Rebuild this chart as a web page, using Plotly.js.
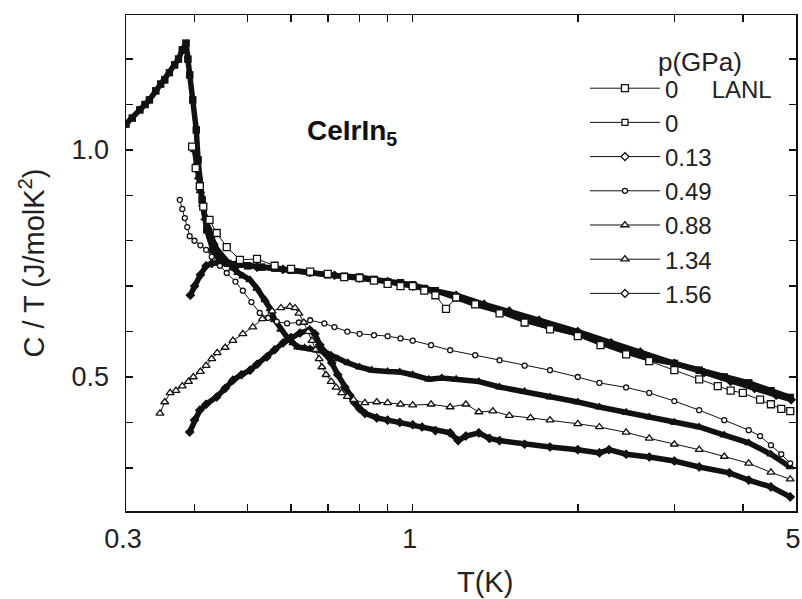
<!DOCTYPE html>
<html>
<head>
<meta charset="utf-8">
<script src="https://cdn.plot.ly/plotly-3.0.1.min.js"></script>
<style>
html,body{margin:0;padding:0;background:#fff;}
#chart{width:802px;height:599px;}
</style>
</head>
<body>
<div id="chart"></div>
<script>
// Legend labels (pressure in GPa)
const seriesNames = ['0', '0', '0.13', '0.49', '0.88', '1.34', '1.56'];

// 0 GPa (LANL) - open squares
const T_LANL = [0.396,0.402,0.409,0.415,0.426,0.439,0.458,0.484,0.52,0.56,0.6,0.65,0.7,0.75,0.8,0.85,0.9,0.95,1.0,1.05,1.1,1.15,1.2,1.3,1.44,1.6,1.78,2.0,2.2,2.45,2.7,3.0,3.33,3.6,3.8,4.0,4.3,4.5,4.7,4.88];
const C_LANL = [1.007,0.96,0.92,0.875,0.846,0.817,0.786,0.758,0.76,0.745,0.738,0.732,0.727,0.72,0.718,0.712,0.705,0.70,0.70,0.69,0.68,0.65,0.675,0.66,0.64,0.62,0.605,0.59,0.57,0.55,0.535,0.515,0.495,0.48,0.47,0.465,0.45,0.44,0.43,0.425];

// 0 GPa
const T_0 = [0.300,0.308,0.318,0.325,0.331,0.340,0.347,0.353,0.360,0.368,0.374,0.380,0.386,0.389,0.392,0.397,0.403,0.406,0.413,0.421,0.432,0.445,0.46,0.48,0.50,0.53,0.56,0.60,0.65,0.70,0.75,0.80,0.85,0.90,0.95,1.0,1.05,1.1,1.2,1.3,1.44,1.6,1.78,2.0,2.2,2.45,2.7,3.0,3.33,3.7,4.1,4.5,4.88];
const C_0 = [1.057,1.07,1.088,1.10,1.11,1.13,1.145,1.154,1.17,1.187,1.20,1.22,1.235,1.20,1.165,1.11,1.044,0.978,0.89,0.824,0.78,0.755,0.75,0.748,0.745,0.742,0.74,0.735,0.73,0.725,0.722,0.72,0.715,0.71,0.708,0.703,0.695,0.69,0.675,0.66,0.645,0.625,0.61,0.595,0.575,0.555,0.54,0.53,0.515,0.50,0.487,0.47,0.455];

// 0.13 GPa
const T_013 = [0.393,0.40,0.41,0.42,0.43,0.45,0.48,0.52,0.58,0.65,0.72,0.8,0.9,1.0,1.1,1.2,1.35,1.5,1.7,2.0,2.3,2.6,3.0,3.4,3.8,4.2,4.6,4.9];
const C_013 = [0.68,0.70,0.725,0.745,0.75,0.752,0.748,0.742,0.737,0.73,0.724,0.718,0.71,0.70,0.688,0.68,0.66,0.645,0.625,0.60,0.575,0.555,0.53,0.51,0.49,0.475,0.46,0.45];

// 0.49 GPa
const T_049 = [0.376,0.38,0.384,0.388,0.392,0.40,0.41,0.42,0.43,0.445,0.458,0.475,0.49,0.508,0.526,0.545,0.565,0.59,0.62,0.65,0.69,0.72,0.76,0.8,0.85,0.9,0.95,1.0,1.08,1.17,1.3,1.44,1.6,1.78,2.0,2.19,2.45,2.7,3.0,3.33,3.7,4.1,4.3,4.5,4.7,4.88];
const C_049 = [0.89,0.87,0.85,0.83,0.81,0.80,0.79,0.78,0.765,0.745,0.729,0.71,0.69,0.665,0.641,0.63,0.622,0.618,0.62,0.625,0.618,0.61,0.60,0.595,0.592,0.59,0.585,0.58,0.57,0.559,0.548,0.537,0.525,0.515,0.50,0.487,0.477,0.465,0.447,0.427,0.405,0.383,0.37,0.35,0.33,0.31];

// 0.88 GPa
const T_088 = [0.400,0.403,0.407,0.41,0.414,0.418,0.423,0.428,0.434,0.44,0.45,0.46,0.47,0.48,0.49,0.505,0.52,0.538,0.55,0.56,0.575,0.592,0.605,0.617,0.635,0.65,0.67,0.691,0.71,0.73,0.762,0.80,0.842,0.9,0.947,1.0,1.07,1.13,1.2,1.32,1.44,1.6,1.78,2.0,2.19,2.45,2.7,3.0,3.33,3.7,4.1,4.5,4.88];
const C_088 = [1.0,0.97,0.94,0.91,0.88,0.85,0.83,0.81,0.795,0.78,0.765,0.75,0.74,0.73,0.722,0.714,0.695,0.67,0.65,0.626,0.605,0.585,0.575,0.566,0.564,0.562,0.56,0.556,0.548,0.54,0.531,0.522,0.515,0.512,0.511,0.505,0.495,0.498,0.495,0.49,0.478,0.468,0.456,0.445,0.434,0.422,0.412,0.40,0.39,0.372,0.355,0.33,0.302];

// 1.34 GPa - triangles
const T_134 = [0.346,0.353,0.361,0.37,0.38,0.39,0.398,0.41,0.42,0.43,0.44,0.455,0.47,0.49,0.511,0.532,0.554,0.575,0.597,0.61,0.62,0.633,0.645,0.655,0.665,0.675,0.683,0.695,0.71,0.725,0.742,0.76,0.78,0.818,0.86,0.9,0.95,1.0,1.08,1.17,1.25,1.32,1.4,1.5,1.64,1.78,2.0,2.19,2.45,2.7,3.0,3.33,3.7,4.1,4.5,4.88];
const C_134 = [0.42,0.445,0.465,0.47,0.48,0.49,0.50,0.512,0.525,0.54,0.553,0.565,0.58,0.595,0.61,0.628,0.645,0.652,0.655,0.652,0.64,0.62,0.60,0.58,0.56,0.54,0.522,0.505,0.49,0.477,0.465,0.457,0.45,0.443,0.445,0.443,0.44,0.438,0.44,0.434,0.44,0.423,0.425,0.415,0.41,0.405,0.397,0.39,0.378,0.365,0.352,0.34,0.325,0.31,0.29,0.275];

// 1.56 GPa
const T_156 = [0.392,0.40,0.409,0.42,0.439,0.455,0.47,0.487,0.505,0.52,0.542,0.56,0.58,0.60,0.623,0.649,0.663,0.677,0.695,0.712,0.73,0.752,0.768,0.784,0.80,0.818,0.86,0.90,0.947,1.0,1.04,1.1,1.17,1.21,1.25,1.32,1.38,1.44,1.6,1.78,2.0,2.19,2.28,2.45,2.7,3.0,3.33,3.78,4.1,4.5,4.88];
const C_156 = [0.379,0.405,0.427,0.44,0.456,0.475,0.493,0.505,0.515,0.528,0.544,0.56,0.575,0.587,0.597,0.604,0.595,0.571,0.55,0.531,0.505,0.478,0.46,0.443,0.43,0.42,0.41,0.405,0.40,0.395,0.39,0.382,0.377,0.36,0.37,0.377,0.365,0.36,0.352,0.346,0.34,0.333,0.34,0.33,0.324,0.315,0.302,0.289,0.273,0.258,0.236];

// Axis ticks
const xTickVals = [0.3, 1, 5];
const xTickText = ['0.3', '1', '5'];
const xMinorVals = [0.4,0.5,0.6,0.7,0.8,0.9,2,3,4];
const yTickVals = [0.5, 1.0];
const yTickText = ['0.5', '1.0'];
const yMinorVals = [0.3,0.4,0.6,0.7,0.8,0.9,1.1,1.2];

const NB = '\u00a0';
const FONT = 'Liberation Sans, Arial, Helvetica, sans-serif';
const INK = '#111';

function legendTrace(x, y, name, rank, symbol, size) {
  return {
    x: x, y: y, name: name, legendrank: rank, legendgroup: 'g' + rank,
    type: 'scatter', mode: 'lines+markers',
    line: {color: INK, width: 1},
    marker: {symbol: symbol, size: size, color: '#fff', line: {color: INK, width: 1.3}},
    hoverinfo: 'skip'
  };
}
function thickTrace(x, y, rank, symbol) {
  return {
    x: x, y: y, legendgroup: 'g' + rank, showlegend: false,
    type: 'scatter', mode: 'lines+markers',
    line: {color: INK, width: 5.5},
    marker: {symbol: symbol, size: 7, color: INK},
    hoverinfo: 'skip'
  };
}

const data = [
  legendTrace(T_0, C_0, seriesNames[1], 2, 'square', 6),
  legendTrace(T_013, C_013, seriesNames[2], 3, 'diamond', 6),
  legendTrace(T_088, C_088, seriesNames[4], 5, 'triangle-up', 7),
  legendTrace(T_156, C_156, seriesNames[6], 7, 'diamond', 6),
  thickTrace(T_0, C_0, 2, 'square'),
  thickTrace(T_013, C_013, 3, 'diamond'),
  thickTrace(T_088, C_088, 5, 'triangle-up'),
  thickTrace(T_156, C_156, 7, 'diamond'),
  legendTrace(T_049, C_049, seriesNames[3], 4, 'circle', 5),
  legendTrace(T_134, C_134, seriesNames[5], 6, 'triangle-up', 7),
  legendTrace(T_LANL, C_LANL, seriesNames[0] + NB.repeat(5) + 'LANL', 1, 'square', 7)
];

const axisCommon = {
  showline: true, linecolor: INK, linewidth: 1.5, mirror: 'allticks',
  ticks: 'inside', ticklen: 7, tickwidth: 1.5, tickcolor: INK,
  showgrid: false, zeroline: false, ticklabeloverflow: 'allow',
  tickfont: {family: FONT, size: 27, color: '#222'}
};

const layout = {
  width: 802, height: 599,
  paper_bgcolor: '#fff', plot_bgcolor: '#fff',
  margin: {l: 126, r: 6, t: 15, b: 88},
  showlegend: true,
  font: {family: FONT, color: '#222'},
  xaxis: Object.assign({}, axisCommon, {
    type: 'log',
    range: [Math.log10(0.3), Math.log10(5)],
    tickmode: 'array', tickvals: xTickVals, ticktext: xTickText,
    minor: {tickmode: 'array', tickvals: xMinorVals, ticks: 'inside', ticklen: 7, tickwidth: 1.5, tickcolor: INK, showgrid: false},
    ticklabelstandoff: 3, ticklabelshift: -3
  }),
  yaxis: Object.assign({}, axisCommon, {
    range: [0.205, 1.297],
    tickmode: 'array', tickvals: yTickVals, ticktext: yTickText,
    minor: {tickmode: 'array', tickvals: yMinorVals, ticks: 'inside', ticklen: 7, tickwidth: 1.5, tickcolor: INK, showgrid: false},
    ticklabelstandoff: 10,
    title: {text: 'C / T (J/molK<sup>2</sup>)', font: {family: FONT, size: 29, color: '#222'}, standoff: 18}
  }),
  legend: {
    x: 0.685, xanchor: 'left', y: 0.897, yanchor: 'top',
    bgcolor: 'rgba(0,0,0,0)', borderwidth: 0,
    font: {family: FONT, size: 24, color: '#222'},
    itemwidth: 70, tracegroupgap: 0, itemclick: false
  },
  annotations: [
    {xref: 'paper', yref: 'paper', x: (485 - 126) / 670, y: -0.143, xanchor: 'center', yanchor: 'middle',
     text: 'T(K)', showarrow: false, font: {family: FONT, size: 29, color: '#222'}},
    {xref: 'paper', yref: 'paper', x: 0.857, y: 0.905, xanchor: 'center', yanchor: 'middle',
     text: 'p(GPa)', showarrow: false, font: {family: FONT, size: 26, color: '#222'}},
    {xref: 'paper', yref: 'paper', x: 0.267, y: 0.764, xanchor: 'left', yanchor: 'middle',
     text: '<b>CeIrIn<sub>5</sub></b>', showarrow: false, font: {family: FONT, size: 28, color: '#111'}}
  ]
};

Plotly.newPlot('chart', data, layout, {displayModeBar: false, staticPlot: true});
</script>
</body>
</html>
